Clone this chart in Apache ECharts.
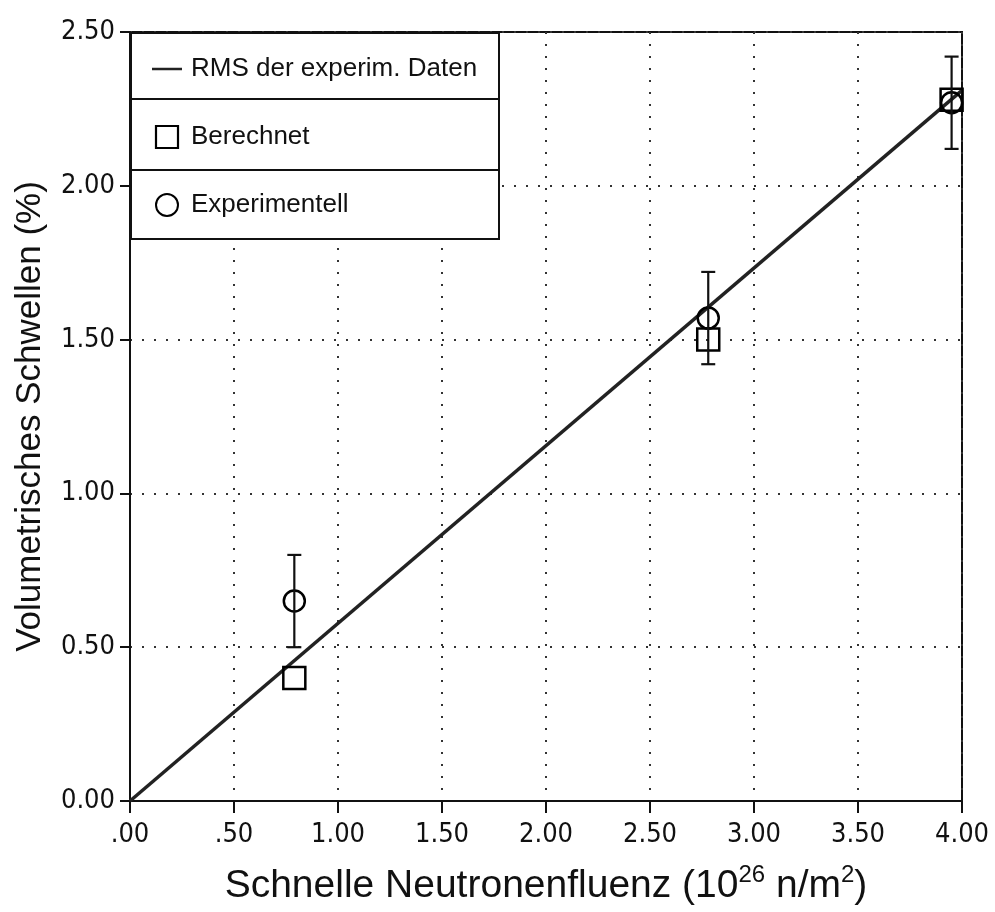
<!DOCTYPE html>
<html>
<head>
<meta charset="utf-8">
<script src="https://cdn.jsdelivr.net/npm/echarts@6/dist/echarts.min.js"></script>
<style>html,body{margin:0;padding:0;background:#fff;}#c{width:995px;height:912px;}</style>
</head>
<body>
<div id="c"></div>
<script>
// ---- data ----
var seriesNames = ['RMS der experim. Daten', 'Berechnet', 'Experimentell'];
var fitX = [0, 4.0];
var fitY = [0, 2.31];
var calcX = [0.79, 2.78, 3.95];
var calcY = [0.40, 1.50, 2.28];
var expX = [0.79, 2.78, 3.95];
var expY = [0.65, 1.57, 2.27];
var expLow = [0.50, 1.42, 2.12];
var expHigh = [0.80, 1.72, 2.42];
var xTickLabels = ['.00', '.50', '1.00', '1.50', '2.00', '2.50', '3.00', '3.50', '4.00'];
var yTickLabels = ['0.00', '0.50', '1.00', '1.50', '2.00', '2.50'];
var xTitle = 'Schnelle Neutronenfluenz (10{sup|26} n/m{sup|2})';
var yTitle = 'Volumetrisches Schwellen (%)';

var narrow = "'Liberation Sans Narrow', 'DejaVu Sans Condensed', sans-serif";
var regular = "'Liberation Sans', Arial, sans-serif";

var chart = echarts.init(document.getElementById('c'), null, {renderer: 'canvas'});

function zip(a, b) { return a.map(function (v, i) { return [v, b[i]]; }); }

var option = {
  backgroundColor: '#fff',
  animation: false,
  grid: {
    left: 130, right: 33, top: 32, bottom: 111,
    outerBoundsMode: 'none', containLabel: false,
    show: true, borderColor: '#111', borderWidth: 2, backgroundColor: 'transparent'
  },
  legend: {
    orient: 'vertical',
    left: 147, top: 51,
    itemGap: 42,
    itemWidth: 30, itemHeight: 22,
    symbolKeepAspect: true,
    z: 10,
    textStyle: {fontFamily: regular, fontSize: 26, color: '#111', padding: [0, 0, 0, 4]},
    data: [
      {name: seriesNames[0], icon: 'path://M0,0 L30,0 L30,2.5 L0,2.5 Z', itemStyle: {color: '#222', borderWidth: 0}},
      {name: seriesNames[1], icon: 'path://M0,0 L22,0 L22,22 L0,22 Z',
       itemStyle: {color: 'rgba(255,255,255,0)', borderColor: '#000', borderWidth: 2.2}},
      {name: seriesNames[2]}
    ]
  },
  graphic: [
    {type: 'rect', left: 130, top: 32, shape: {width: 368, height: 206},
     style: {fill: '#fff', stroke: '#111', lineWidth: 2}, z: 6},
    {type: 'line', shape: {x1: 130, y1: 99, x2: 498, y2: 99}, style: {stroke: '#111', lineWidth: 2}, z: 7},
    {type: 'line', shape: {x1: 130, y1: 170, x2: 498, y2: 170}, style: {stroke: '#111', lineWidth: 2}, z: 7}
  ],
  xAxis: {
    type: 'value', min: 0, max: 4, interval: 0.5,
    name: xTitle, nameLocation: 'middle', nameGap: 62,
    nameTextStyle: {
      fontFamily: regular, fontSize: 39, color: '#111', lineHeight: 46,
      rich: {sup: {fontFamily: regular, fontSize: 24, verticalAlign: 'top', lineHeight: 46, color: '#111', padding: [0, 0, 18, 0]}}
    },
    axisLine: {show: true, lineStyle: {color: '#111', width: 2}},
    axisTick: {show: true, length: 12, lineStyle: {color: '#111', width: 2}},
    axisLabel: {
      margin: 20, fontFamily: narrow, fontSize: 27, color: '#111',
      formatter: function (v) { return xTickLabels[Math.round(v / 0.5)]; }
    },
    splitLine: {show: true, lineStyle: {color: '#333', width: 2, type: [2, 10]}}
  },
  yAxis: {
    type: 'value', min: 0, max: 2.5, interval: 0.5,
    name: yTitle, nameLocation: 'middle', nameGap: 82, nameRotate: 90,
    nameTextStyle: {fontFamily: regular, fontSize: 35, color: '#111'},
    axisLine: {show: true, lineStyle: {color: '#111', width: 2}},
    axisTick: {show: true, length: 10, lineStyle: {color: '#111', width: 2}},
    axisLabel: {
      margin: 15, fontFamily: narrow, fontSize: 27, color: '#111',
      formatter: function (v) { return yTickLabels[Math.round(v / 0.5)]; }
    },
    splitLine: {show: true, lineStyle: {color: '#333', width: 2, type: [2, 10]}}
  },
  series: [
    {
      name: seriesNames[0], type: 'line', data: zip(fitX, fitY),
      symbol: 'none', lineStyle: {color: '#222', width: 3.5}, itemStyle: {color: '#222'}, z: 3
    },
    {
      name: seriesNames[1], type: 'scatter', data: zip(calcX, calcY),
      symbol: 'rect', symbolSize: 22,
      itemStyle: {color: 'rgba(255,255,255,0)', borderColor: '#000', borderWidth: 2.5, opacity: 1}, z: 4
    },
    {
      name: seriesNames[2], type: 'scatter', data: zip(expX, expY),
      symbol: 'circle', symbolSize: 21,
      itemStyle: {color: 'rgba(255,255,255,0)', borderColor: '#000', borderWidth: 2.5, opacity: 1}, z: 4
    },
    {
      name: 'err', type: 'custom',
      data: expX.map(function (x, i) { return [x, expLow[i], expHigh[i]]; }),
      renderItem: function (params, api) {
        var lo = api.coord([api.value(0), api.value(1)]);
        var hi = api.coord([api.value(0), api.value(2)]);
        var hw = 7;
        var st = {stroke: '#111', lineWidth: 2.2};
        return {
          type: 'group',
          children: [
            {type: 'line', shape: {x1: lo[0], y1: lo[1], x2: hi[0], y2: hi[1]}, style: st},
            {type: 'line', shape: {x1: lo[0] - hw, y1: lo[1], x2: lo[0] + hw, y2: lo[1]}, style: st},
            {type: 'line', shape: {x1: hi[0] - hw, y1: hi[1], x2: hi[0] + hw, y2: hi[1]}, style: st}
          ]
        };
      },
      z: 5, silent: true
    }
  ]
};
chart.setOption(option);
</script>
</body>
</html>
